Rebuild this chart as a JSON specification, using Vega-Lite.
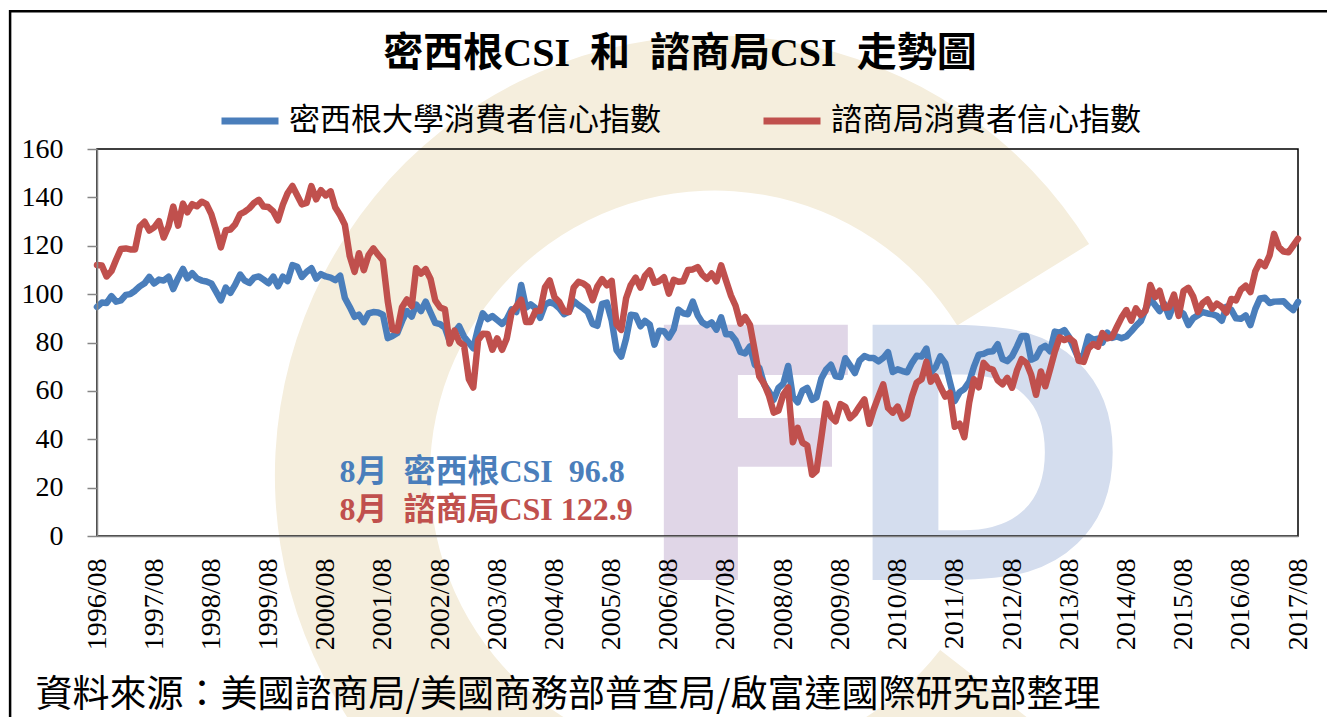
{
"$schema":"https://vega.github.io/schema/vega-lite/v6.json",
"width":1201,"height":387,
"autosize":{"type":"none"},
"padding":{"left":97,"top":149,"right":29,"bottom":181},
"background":"white",
"config":{"view":{"stroke":null}},
"datasets":{"one":[{}],"csi":[
{"date":"1996-08","m":94.7,"c":112.0},{"date":"1996-09","m":96.5,"c":111.8},{"date":"1996-10","m":96.3,"c":107.3},{"date":"1996-11","m":99.2,"c":109.5},{"date":"1996-12","m":96.9,"c":114.2},
{"date":"1997-01","m":97.4,"c":118.7},{"date":"1997-02","m":99.7,"c":118.9},{"date":"1997-03","m":100.0,"c":118.5},{"date":"1997-04","m":101.4,"c":118.5},{"date":"1997-05","m":103.2,"c":127.9},{"date":"1997-06","m":104.5,"c":129.9},{"date":"1997-07","m":107.1,"c":126.3},{"date":"1997-08","m":104.4,"c":127.6},{"date":"1997-09","m":106.0,"c":130.2},{"date":"1997-10","m":105.6,"c":123.4},{"date":"1997-11","m":107.2,"c":128.1},{"date":"1997-12","m":102.1,"c":136.2},
{"date":"1998-01","m":106.6,"c":128.3},{"date":"1998-02","m":110.4,"c":137.4},{"date":"1998-03","m":106.5,"c":133.8},{"date":"1998-04","m":108.7,"c":137.2},{"date":"1998-05","m":106.5,"c":136.3},{"date":"1998-06","m":105.6,"c":138.2},{"date":"1998-07","m":105.2,"c":137.2},{"date":"1998-08","m":104.4,"c":133.1},{"date":"1998-09","m":100.9,"c":126.4},{"date":"1998-10","m":97.4,"c":119.3},{"date":"1998-11","m":102.7,"c":126.4},{"date":"1998-12","m":100.5,"c":126.7},
{"date":"1999-01","m":103.9,"c":128.9},{"date":"1999-02","m":108.1,"c":133.1},{"date":"1999-03","m":105.7,"c":134.0},{"date":"1999-04","m":104.6,"c":135.5},{"date":"1999-05","m":106.8,"c":137.7},{"date":"1999-06","m":107.3,"c":139.0},{"date":"1999-07","m":106.0,"c":136.2},{"date":"1999-08","m":104.5,"c":136.0},{"date":"1999-09","m":107.2,"c":134.2},{"date":"1999-10","m":103.2,"c":130.5},{"date":"1999-11","m":107.2,"c":137.0},{"date":"1999-12","m":105.4,"c":141.7},
{"date":"2000-01","m":112.0,"c":144.7},{"date":"2000-02","m":111.3,"c":140.8},{"date":"2000-03","m":107.1,"c":137.1},{"date":"2000-04","m":109.2,"c":137.7},{"date":"2000-05","m":110.7,"c":144.7},{"date":"2000-06","m":106.4,"c":139.2},{"date":"2000-07","m":108.3,"c":143.0},{"date":"2000-08","m":107.3,"c":140.8},{"date":"2000-09","m":106.8,"c":142.5},{"date":"2000-10","m":105.8,"c":135.8},{"date":"2000-11","m":107.6,"c":132.6},{"date":"2000-12","m":98.4,"c":128.6},
{"date":"2001-01","m":94.7,"c":115.7},{"date":"2001-02","m":90.6,"c":109.2},{"date":"2001-03","m":91.5,"c":116.9},{"date":"2001-04","m":88.4,"c":109.9},{"date":"2001-05","m":92.0,"c":116.1},{"date":"2001-06","m":92.6,"c":118.9},{"date":"2001-07","m":92.4,"c":116.3},{"date":"2001-08","m":91.5,"c":114.0},{"date":"2001-09","m":81.8,"c":97.0},{"date":"2001-10","m":82.7,"c":85.3},{"date":"2001-11","m":83.9,"c":84.9},{"date":"2001-12","m":88.8,"c":94.6},
{"date":"2002-01","m":93.0,"c":97.8},{"date":"2002-02","m":90.7,"c":95.0},{"date":"2002-03","m":95.7,"c":110.7},{"date":"2002-04","m":93.0,"c":108.5},{"date":"2002-05","m":96.9,"c":110.3},{"date":"2002-06","m":92.4,"c":106.3},{"date":"2002-07","m":88.1,"c":97.4},{"date":"2002-08","m":87.6,"c":94.5},{"date":"2002-09","m":86.1,"c":93.7},{"date":"2002-10","m":80.6,"c":79.6},{"date":"2002-11","m":84.2,"c":84.9},{"date":"2002-12","m":86.7,"c":80.3},
{"date":"2003-01","m":82.4,"c":78.8},{"date":"2003-02","m":79.9,"c":64.8},{"date":"2003-03","m":77.6,"c":61.4},{"date":"2003-04","m":86.0,"c":81.0},{"date":"2003-05","m":92.1,"c":83.6},{"date":"2003-06","m":89.7,"c":83.5},{"date":"2003-07","m":90.9,"c":77.0},{"date":"2003-08","m":89.3,"c":81.7},{"date":"2003-09","m":87.7,"c":77.0},{"date":"2003-10","m":89.6,"c":81.7},{"date":"2003-11","m":93.7,"c":92.5},{"date":"2003-12","m":92.6,"c":94.8},
{"date":"2004-01","m":103.8,"c":97.7},{"date":"2004-02","m":94.4,"c":88.5},{"date":"2004-03","m":95.8,"c":88.5},{"date":"2004-04","m":94.2,"c":93.0},{"date":"2004-05","m":90.2,"c":93.1},{"date":"2004-06","m":95.6,"c":102.8},{"date":"2004-07","m":96.7,"c":105.7},{"date":"2004-08","m":95.9,"c":98.7},{"date":"2004-09","m":94.2,"c":96.7},{"date":"2004-10","m":91.7,"c":92.9},{"date":"2004-11","m":92.8,"c":92.6},{"date":"2004-12","m":97.1,"c":102.7},
{"date":"2005-01","m":95.5,"c":105.1},{"date":"2005-02","m":94.1,"c":104.4},{"date":"2005-03","m":92.6,"c":103.0},{"date":"2005-04","m":87.7,"c":97.5},{"date":"2005-05","m":86.9,"c":103.1},{"date":"2005-06","m":96.0,"c":106.2},{"date":"2005-07","m":96.5,"c":103.6},{"date":"2005-08","m":89.1,"c":105.5},{"date":"2005-09","m":76.9,"c":87.5},{"date":"2005-10","m":74.2,"c":85.2},{"date":"2005-11","m":81.6,"c":98.3},{"date":"2005-12","m":91.5,"c":103.8},
{"date":"2006-01","m":91.2,"c":106.8},{"date":"2006-02","m":86.7,"c":102.7},{"date":"2006-03","m":88.9,"c":107.5},{"date":"2006-04","m":87.4,"c":109.8},{"date":"2006-05","m":79.1,"c":104.7},{"date":"2006-06","m":84.9,"c":105.4},{"date":"2006-07","m":84.7,"c":107.0},{"date":"2006-08","m":82.0,"c":100.2},{"date":"2006-09","m":85.4,"c":105.9},{"date":"2006-10","m":93.6,"c":105.1},{"date":"2006-11","m":92.1,"c":105.3},{"date":"2006-12","m":91.7,"c":110.0},
{"date":"2007-01","m":96.9,"c":110.2},{"date":"2007-02","m":91.3,"c":111.2},{"date":"2007-03","m":88.4,"c":108.2},{"date":"2007-04","m":87.1,"c":106.3},{"date":"2007-05","m":88.3,"c":108.5},{"date":"2007-06","m":85.3,"c":105.3},{"date":"2007-07","m":90.4,"c":111.9},{"date":"2007-08","m":83.4,"c":105.6},{"date":"2007-09","m":83.4,"c":99.5},{"date":"2007-10","m":80.9,"c":95.2},{"date":"2007-11","m":76.1,"c":87.8},{"date":"2007-12","m":75.5,"c":90.6},
{"date":"2008-01","m":78.4,"c":87.3},{"date":"2008-02","m":70.8,"c":76.4},{"date":"2008-03","m":69.5,"c":65.9},{"date":"2008-04","m":62.6,"c":62.8},{"date":"2008-05","m":59.8,"c":58.1},{"date":"2008-06","m":56.4,"c":51.0},{"date":"2008-07","m":61.2,"c":51.9},{"date":"2008-08","m":63.0,"c":58.5},{"date":"2008-09","m":70.3,"c":61.4},{"date":"2008-10","m":57.6,"c":38.8},{"date":"2008-11","m":55.3,"c":44.7},{"date":"2008-12","m":60.1,"c":38.6},
{"date":"2009-01","m":61.2,"c":37.4},{"date":"2009-02","m":56.3,"c":25.3},{"date":"2009-03","m":57.3,"c":26.9},{"date":"2009-04","m":65.1,"c":40.8},{"date":"2009-05","m":68.7,"c":54.8},{"date":"2009-06","m":70.8,"c":49.3},{"date":"2009-07","m":66.0,"c":47.4},{"date":"2009-08","m":65.7,"c":54.5},{"date":"2009-09","m":73.5,"c":53.4},{"date":"2009-10","m":70.6,"c":48.7},{"date":"2009-11","m":67.4,"c":50.6},{"date":"2009-12","m":72.5,"c":53.6},
{"date":"2010-01","m":74.4,"c":56.5},{"date":"2010-02","m":73.6,"c":46.4},{"date":"2010-03","m":73.6,"c":52.3},{"date":"2010-04","m":72.2,"c":57.7},{"date":"2010-05","m":73.6,"c":62.7},{"date":"2010-06","m":76.0,"c":52.9},{"date":"2010-07","m":67.8,"c":51.0},{"date":"2010-08","m":68.9,"c":53.5},{"date":"2010-09","m":68.2,"c":48.6},{"date":"2010-10","m":67.7,"c":49.9},{"date":"2010-11","m":71.6,"c":57.8},{"date":"2010-12","m":74.5,"c":63.4},
{"date":"2011-01","m":74.2,"c":64.8},{"date":"2011-02","m":77.5,"c":72.0},{"date":"2011-03","m":67.5,"c":63.8},{"date":"2011-04","m":69.8,"c":66.0},{"date":"2011-05","m":74.3,"c":61.7},{"date":"2011-06","m":71.5,"c":57.6},{"date":"2011-07","m":63.7,"c":59.2},{"date":"2011-08","m":55.8,"c":45.2},{"date":"2011-09","m":59.5,"c":46.4},{"date":"2011-10","m":60.8,"c":40.9},{"date":"2011-11","m":63.7,"c":55.2},{"date":"2011-12","m":69.9,"c":64.8},
{"date":"2012-01","m":75.0,"c":61.5},{"date":"2012-02","m":75.3,"c":71.6},{"date":"2012-03","m":76.2,"c":69.5},{"date":"2012-04","m":76.4,"c":68.7},{"date":"2012-05","m":79.3,"c":64.4},{"date":"2012-06","m":73.2,"c":62.7},{"date":"2012-07","m":72.3,"c":65.4},{"date":"2012-08","m":74.3,"c":61.3},{"date":"2012-09","m":78.3,"c":68.4},{"date":"2012-10","m":82.6,"c":73.1},{"date":"2012-11","m":82.7,"c":71.5},{"date":"2012-12","m":72.9,"c":66.7},
{"date":"2013-01","m":73.8,"c":58.4},{"date":"2013-02","m":77.6,"c":68.0},{"date":"2013-03","m":78.6,"c":61.9},{"date":"2013-04","m":76.4,"c":69.0},{"date":"2013-05","m":84.5,"c":76.2},{"date":"2013-06","m":84.1,"c":82.1},{"date":"2013-07","m":85.1,"c":81.0},{"date":"2013-08","m":82.1,"c":81.8},{"date":"2013-09","m":77.5,"c":80.2},{"date":"2013-10","m":73.2,"c":72.4},{"date":"2013-11","m":75.1,"c":72.0},{"date":"2013-12","m":82.5,"c":77.5},
{"date":"2014-01","m":81.2,"c":79.4},{"date":"2014-02","m":81.6,"c":78.3},{"date":"2014-03","m":80.0,"c":83.9},{"date":"2014-04","m":84.1,"c":81.7},{"date":"2014-05","m":81.9,"c":82.2},{"date":"2014-06","m":82.5,"c":86.4},{"date":"2014-07","m":81.8,"c":90.3},{"date":"2014-08","m":82.5,"c":93.4},{"date":"2014-09","m":84.6,"c":89.0},{"date":"2014-10","m":86.9,"c":94.1},{"date":"2014-11","m":88.8,"c":91.3},{"date":"2014-12","m":93.6,"c":93.1},
{"date":"2015-01","m":98.1,"c":103.8},{"date":"2015-02","m":95.4,"c":98.8},{"date":"2015-03","m":93.0,"c":101.4},{"date":"2015-04","m":95.9,"c":94.3},{"date":"2015-05","m":90.7,"c":94.6},{"date":"2015-06","m":96.1,"c":99.8},{"date":"2015-07","m":93.1,"c":91.0},{"date":"2015-08","m":91.9,"c":101.3},{"date":"2015-09","m":87.2,"c":102.6},{"date":"2015-10","m":90.0,"c":99.1},{"date":"2015-11","m":91.3,"c":92.6},{"date":"2015-12","m":92.6,"c":96.3},
{"date":"2016-01","m":92.0,"c":97.8},{"date":"2016-02","m":91.7,"c":94.0},{"date":"2016-03","m":91.0,"c":96.1},{"date":"2016-04","m":89.0,"c":94.7},{"date":"2016-05","m":94.7,"c":92.4},{"date":"2016-06","m":93.5,"c":98.0},{"date":"2016-07","m":90.0,"c":97.4},{"date":"2016-08","m":89.8,"c":101.8},{"date":"2016-09","m":91.2,"c":103.5},{"date":"2016-10","m":87.2,"c":100.8},{"date":"2016-11","m":93.8,"c":109.4},{"date":"2016-12","m":98.2,"c":113.3},
{"date":"2017-01","m":98.5,"c":111.6},{"date":"2017-02","m":96.3,"c":116.1},{"date":"2017-03","m":96.9,"c":124.9},{"date":"2017-04","m":97.0,"c":119.4},{"date":"2017-05","m":97.1,"c":117.6},{"date":"2017-06","m":95.0,"c":117.3},{"date":"2017-07","m":93.4,"c":120.0},{"date":"2017-08","m":96.8,"c":122.9}
]},
"layer":[
{"data":{"name":"one"},
 "mark":{"type":"arc","radius":440,"radius2":285,"theta":2.23,"theta2":7.30,"color":"#f5eedd"},
 "encoding":{"x":{"datum":{"year":2007,"month":5,"date":22,"utc":true},"type":"temporal","scale":{"type":"utc","domain":[{"year":1996,"month":8,"date":1,"utc":true},{"year":2017,"month":8,"date":1,"utc":true}]}},
 "y":{"datum":25,"type":"quantitative","scale":{"domain":[0,160],"nice":false,"zero":false}}}},
{"data":{"name":"one"},
 "mark":{"type":"rect","color":"#e0d6e7"},
 "encoding":{"x":{"datum":{"year":2006,"month":6,"date":30,"utc":true},"type":"temporal","scale":{"type":"utc","domain":[{"year":1996,"month":8,"date":1,"utc":true},{"year":2017,"month":8,"date":1,"utc":true}]}},
 "x2":{"datum":{"year":2007,"month":10,"date":16,"utc":true}},
 "y":{"datum":87.3,"type":"quantitative","scale":{"domain":[0,160],"nice":false,"zero":false}},
 "y2":{"datum":-18.2}}},
{"data":{"name":"one"},
 "mark":{"type":"rect","color":"#e0d6e7"},
 "encoding":{"x":{"datum":{"year":2007,"month":10,"date":1,"utc":true},"type":"temporal","scale":{"type":"utc","domain":[{"year":1996,"month":8,"date":1,"utc":true},{"year":2017,"month":8,"date":1,"utc":true}]}},
 "x2":{"datum":{"year":2009,"month":9,"date":17,"utc":true}},
 "y":{"datum":87.3,"type":"quantitative","scale":{"domain":[0,160],"nice":false,"zero":false}},
 "y2":{"datum":66.6}}},
{"data":{"name":"one"},
 "mark":{"type":"rect","color":"#e0d6e7"},
 "encoding":{"x":{"datum":{"year":2007,"month":10,"date":1,"utc":true},"type":"temporal","scale":{"type":"utc","domain":[{"year":1996,"month":8,"date":1,"utc":true},{"year":2017,"month":8,"date":1,"utc":true}]}},
 "x2":{"datum":{"year":2009,"month":6,"date":8,"utc":true}},
 "y":{"datum":48.8,"type":"quantitative","scale":{"domain":[0,160],"nice":false,"zero":false}},
 "y2":{"datum":28.6}}},
{"data":{"name":"one"},
 "mark":{"type":"text","text":"D","font":"DejaVu Sans","fontSize":350,"fontWeight":"bold","align":"left","baseline":"alphabetic","color":"#d4ddee"},
 "encoding":{"x":{"datum":{"year":2009,"month":8,"date":1,"utc":true},"type":"temporal","scale":{"type":"utc","domain":[{"year":1996,"month":8,"date":1,"utc":true},{"year":2017,"month":8,"date":1,"utc":true}]}},
 "y":{"datum":-18.2,"type":"quantitative","scale":{"domain":[0,160],"nice":false,"zero":false}}}},
{"data":{"name":"one"},
 "mark":{"type":"rect","fill":"transparent","stroke":"#000000","strokeWidth":2.5},
 "encoding":{"x":{"datum":{"year":1995,"month":1,"date":24,"utc":true},"type":"temporal","scale":{"type":"utc","domain":[{"year":1996,"month":8,"date":1,"utc":true},{"year":2017,"month":8,"date":1,"utc":true}]}},
 "x2":{"datum":{"year":2018,"month":8,"date":1,"utc":true}},
 "y":{"datum":217,"type":"quantitative","scale":{"domain":[0,160],"nice":false,"zero":false}},
 "y2":{"datum":-90}}},
{"data":{"name":"one"},
 "mark":{"type":"rect","fill":"transparent","stroke":"#000000","strokeWidth":1.5},
 "encoding":{"x":{"datum":{"year":1996,"month":8,"date":1,"utc":true},"type":"temporal","scale":{"type":"utc","domain":[{"year":1996,"month":8,"date":1,"utc":true},{"year":2017,"month":8,"date":1,"utc":true}]}},
 "x2":{"datum":{"year":2017,"month":8,"date":1,"utc":true}},
 "y":{"datum":160,"type":"quantitative","scale":{"domain":[0,160],"nice":false,"zero":false}},
 "y2":{"datum":0}}},
{"data":{"name":"csi"},
 "transform":[{"fold":["m","c"],"as":["series","value"]}],
 "mark":{"type":"line","strokeWidth":6.5,"strokeJoin":"round","strokeCap":"round"},
 "encoding":{
  "x":{"field":"date","type":"temporal",
   "scale":{"type":"utc","domain":[{"year":1996,"month":8,"date":1,"utc":true},{"year":2017,"month":8,"date":1,"utc":true}]},
   "axis":{"values":[{"year":1996,"month":8,"date":1,"utc":true},{"year":1997,"month":8,"date":1,"utc":true},{"year":1998,"month":8,"date":1,"utc":true},{"year":1999,"month":8,"date":1,"utc":true},{"year":2000,"month":8,"date":1,"utc":true},{"year":2001,"month":8,"date":1,"utc":true},{"year":2002,"month":8,"date":1,"utc":true},{"year":2003,"month":8,"date":1,"utc":true},{"year":2004,"month":8,"date":1,"utc":true},{"year":2005,"month":8,"date":1,"utc":true},{"year":2006,"month":8,"date":1,"utc":true},{"year":2007,"month":8,"date":1,"utc":true},{"year":2008,"month":8,"date":1,"utc":true},{"year":2009,"month":8,"date":1,"utc":true},{"year":2010,"month":8,"date":1,"utc":true},{"year":2011,"month":8,"date":1,"utc":true},{"year":2012,"month":8,"date":1,"utc":true},{"year":2013,"month":8,"date":1,"utc":true},{"year":2014,"month":8,"date":1,"utc":true},{"year":2015,"month":8,"date":1,"utc":true},{"year":2016,"month":8,"date":1,"utc":true},{"year":2017,"month":8,"date":1,"utc":true}],
    "format":"%Y/%m","labelAngle":270,"labelFont":"Liberation Serif","labelFontSize":28,"labelColor":"#000000","ticks":false,"labelPadding":22,"labelFlush":false,"labelOverlap":false,"domainColor":"#868686","domainWidth":1.5,"grid":false,"zindex":1,
    "title":"資料來源：美國諮商局/美國商務部普查局/啟富達國際研究部整理","titleFont":"Noto Sans CJK TC","titleFontSize":37,"titleFontWeight":"normal","titleColor":"#000000","titleAnchor":"start","titleAlign":"left","titleBaseline":"middle","titleX":-62,"titleY":159}},
  "y":{"field":"value","type":"quantitative","scale":{"domain":[0,160],"nice":false,"zero":false},
   "axis":{"values":[0,20,40,60,80,100,120,140,160],"labelFont":"Liberation Serif","labelFontSize":28,"labelColor":"#000000","tickSize":10,"tickColor":"#868686","tickWidth":1.5,"domainColor":"#868686","domainWidth":1.5,"labelPadding":24,"grid":false,"title":null,"zindex":1}},
  "color":{"field":"series","type":"nominal","scale":{"domain":["m","c"],"range":["#4a7ebb","#c0504d"]},
   "legend":{"orient":"none","legendX":121,"legendY":-60,"direction":"horizontal","title":null,"symbolType":"stroke","symbolStrokeWidth":7,"symbolSize":3249,"labelFont":"Noto Sans CJK TC","labelFontSize":31,"labelColor":"#000000","labelOffset":7,"columnPadding":88,"labelLimit":700,"padding":0,
    "labelExpr":"datum.value == 'm' ? '密西根大學消費者信心指數' : '諮商局消費者信心指數'"}}
 }},
{"data":{"name":"one"},
 "mark":{"type":"text","text":"密西根CSI\u2002和\u2002諮商局CSI\u2002走勢圖","font":"Liberation Serif, Noto Sans CJK TC","fontSize":40,"fontWeight":"bold","align":"center","baseline":"alphabetic","color":"#000000"},
 "encoding":{"x":{"datum":{"year":2006,"month":10,"date":11,"utc":true},"type":"temporal","scale":{"type":"utc","domain":[{"year":1996,"month":8,"date":1,"utc":true},{"year":2017,"month":8,"date":1,"utc":true}]}},
 "y":{"datum":194.5,"type":"quantitative","scale":{"domain":[0,160],"nice":false,"zero":false}}}},
{"data":{"name":"one"},
 "mark":{"type":"text","text":"8月\u2002密西根CSI\u200296.8","font":"Liberation Serif, Noto Sans CJK TC","fontSize":32,"fontWeight":"bold","align":"left","baseline":"alphabetic","color":"#4a7ebb"},
 "encoding":{"x":{"datum":{"year":2000,"month":10,"date":27,"utc":true},"type":"temporal","scale":{"type":"utc","domain":[{"year":1996,"month":8,"date":1,"utc":true},{"year":2017,"month":8,"date":1,"utc":true}]}},
 "y":{"datum":22.3,"type":"quantitative","scale":{"domain":[0,160],"nice":false,"zero":false}}}},
{"data":{"name":"one"},
 "mark":{"type":"text","text":"8月\u2002諮商局CSI 122.9","font":"Liberation Serif, Noto Sans CJK TC","fontSize":32,"fontWeight":"bold","align":"left","baseline":"alphabetic","color":"#c0504d"},
 "encoding":{"x":{"datum":{"year":2000,"month":10,"date":27,"utc":true},"type":"temporal","scale":{"type":"utc","domain":[{"year":1996,"month":8,"date":1,"utc":true},{"year":2017,"month":8,"date":1,"utc":true}]}},
 "y":{"datum":6.6,"type":"quantitative","scale":{"domain":[0,160],"nice":false,"zero":false}}}}
]
}
